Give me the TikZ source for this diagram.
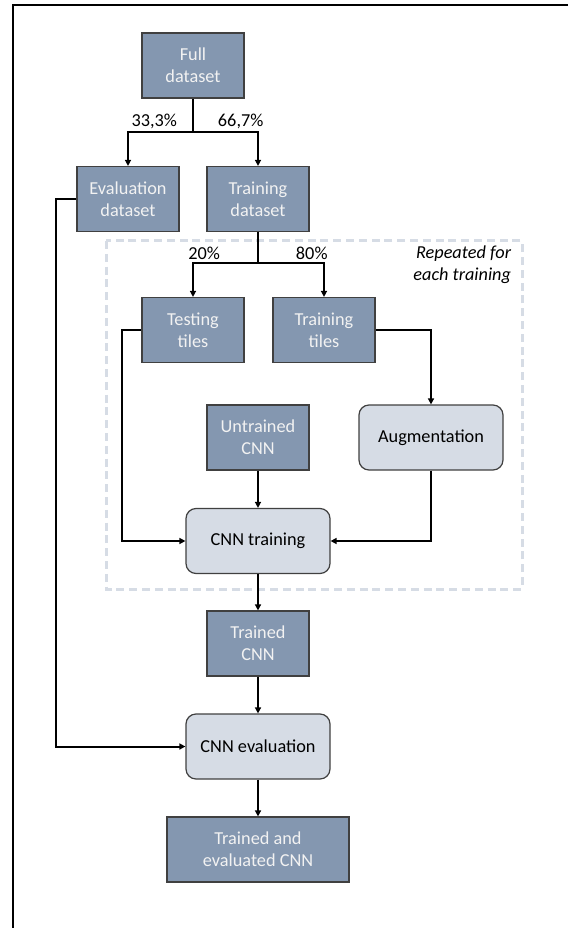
\documentclass[tikz,border=0pt]{standalone}
\usepackage{fontspec}
\setmainfont{Carlito}
\usetikzlibrary{arrows.meta}
\definecolor{boxfill}{HTML}{8497B0}
\definecolor{lightfill}{HTML}{D6DCE5}
\definecolor{boxedge}{HTML}{404040}
\definecolor{boxtext}{HTML}{F2F2F2}
\begin{document}
\begin{tikzpicture}[x=0.25mm, y=-0.25mm,
    every node/.style={font=\fontsize{13pt}{15.6pt}\selectfont},
    darkbox/.style={draw=boxedge, fill=boxfill, text=boxtext, align=center, line width=0.3mm, minimum width=25.5mm, minimum height=16.25mm},
    lightbox/.style={draw=boxedge, fill=lightfill, align=center, rounded corners=2.5mm, line width=0.3mm, minimum width=36mm, minimum height=16.25mm},
    arr/.style={-{Triangle[length=1.5mm,width=1.5mm]}, line width=0.5mm}]
      \useasboundingbox (0,0) rectangle (568,928);
      \draw[line width=0.4mm] (568,5) -- (13,5) -- (13,928);

      % Repeated part
      \draw[lightfill, line width=0.75mm, dash pattern=on 2mm off 1.2mm] (106,241) rectangle (522,589);
      \node[anchor=east, align=right, font=\fontsize{13pt}{15.6pt}\selectfont\itshape] (repeat) at (516,265) {Repeated for\\each training};

      % Datasets
      \node[darkbox] (full) at (193,65.5) {Full\\dataset};
      \node[darkbox] (evalds) at (128,199) {Evaluation\\dataset};
      \node[darkbox] (trainds) at (258,199) {Training\\dataset};
      \node[anchor=east] (pcteval) at (182,121) {33,3\%};
      \node[anchor=west] (pcttrain) at (213,121) {66,7\%};
      \coordinate (split1) at (193,132);

      % Tiles
      \node[darkbox] (testtiles) at (193,330) {Testing\\tiles};
      \node[darkbox] (traintiles) at (324,330) {Training\\tiles};
      \node[anchor=east] (pcttest) at (225,253) {20\%};
      \node[anchor=west] (pcttiles) at (291,253) {80\%};
      \coordinate (split2) at (258,263);

      % Training
      \node[darkbox] (untrained) at (258,437.5) {Untrained\\CNN};
      \node[lightbox] (augment) at (431,437.5) {Augmentation};
      \node[lightbox] (cnntrain) at (258,541) {CNN training};

      % Evaluation
      \node[darkbox] (trained) at (258,643.5) {Trained\\CNN};
      \node[lightbox] (cnneval) at (258,746.5) {CNN evaluation};
      \node[darkbox, minimum width=45.5mm] (final) at (258,849.5) {Trained and\\evaluated CNN};

      % Arrows
      \draw[line width=0.5mm] (full.south) -- (split1);
      \draw[arr] (split1) -| (evalds.north);
      \draw[arr] (split1) -| (trainds.north);
      \draw[line width=0.5mm] (trainds.south) -- (split2);
      \draw[arr] (split2) -| (testtiles.north);
      \draw[arr] (split2) -| (traintiles.north);
      \draw[arr] (evalds.west) -- ++(-20,0) |- (cnneval.west);
      \draw[arr] (testtiles.west) -- ++(-19,0) |- (cnntrain.west);
      \draw[arr] (traintiles.east) -| (augment.north);
      \draw[arr] (augment.south) |- (cnntrain.east);
      \draw[arr] (untrained) -- (cnntrain);
      \draw[arr] (cnntrain) -- (trained);
      \draw[arr] (trained) -- (cnneval);
      \draw[arr] (cnneval) -- (final);
\end{tikzpicture}
\end{document}
